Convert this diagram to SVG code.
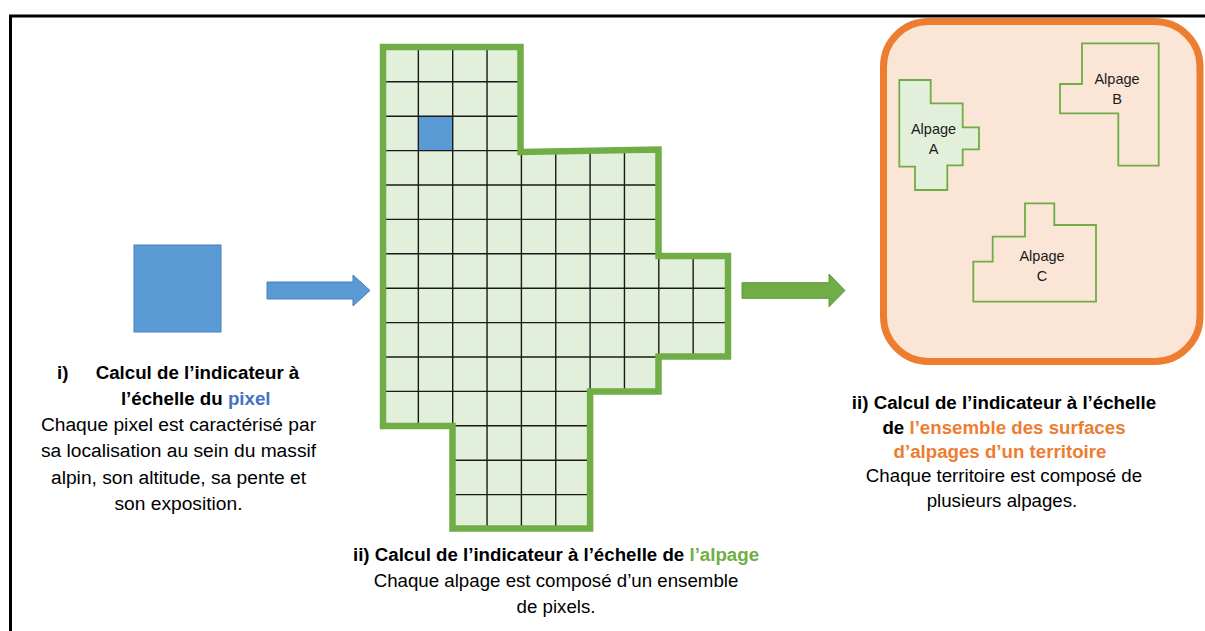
<svg xmlns="http://www.w3.org/2000/svg" width="1205" height="631" viewBox="0 0 1205 631">
  <style>
    .t { font-family: "Liberation Sans", Arial, sans-serif; font-size: 18.7px; fill: #000; }
    .b { font-weight: bold; }
    .blue { fill: #4472C4; }
    .green { fill: #70AD47; }
    .orange { fill: #ED7D31; }
    .lbl { font-family: "Liberation Sans", Arial, sans-serif; font-size: 14.5px; fill: #1a1a1a; text-anchor: middle; }
    .gl { stroke: #1a1a1a; stroke-width: 1.4; }
    .alp { stroke: #70AD47; stroke-width: 1.8; stroke-linejoin: miter; }
  </style>
  <defs>
    <clipPath id="gridClip">
      <polygon points="384,47.4 521.4,47.4 521.4,150.6 658.8,150.6 658.8,253.8 727.5,253.8 727.5,357 658.8,357 658.8,391.4 590.1,391.4 590.1,529 452.7,529 452.7,425.8 384,425.8"/>
    </clipPath>
  </defs>

  <rect width="1205" height="631" fill="#ffffff"/>
  <!-- frame -->
  <path d="M10.5,631 V16 H1205" fill="none" stroke="#000" stroke-width="3"/>

  <!-- pixel node -->
  <g id="pixel">
    <rect x="134" y="245" width="87" height="87" fill="#5B9BD5" stroke="#4A7EBB" stroke-width="1"/>
  </g>

  <!-- alpage grid node -->
  <g id="alpage">
    <polygon points="384,47.4 521.4,47.4 521.4,150.6 658.8,150.6 658.8,253.8 727.5,253.8 727.5,357 658.8,357 658.8,391.4 590.1,391.4 590.1,529 452.7,529 452.7,425.8 384,425.8" fill="#E2EFDA"/>
    <rect x="418.35" y="116.2" width="34.35" height="34.4" fill="#5B9BD5"/>
    <g clip-path="url(#gridClip)" class="gl">
      <line x1="418.35" y1="40" x2="418.35" y2="540"/>
      <line x1="452.7" y1="40" x2="452.7" y2="540"/>
      <line x1="487.05" y1="40" x2="487.05" y2="540"/>
      <line x1="521.4" y1="40" x2="521.4" y2="540"/>
      <line x1="555.75" y1="40" x2="555.75" y2="540"/>
      <line x1="590.1" y1="40" x2="590.1" y2="540"/>
      <line x1="624.45" y1="40" x2="624.45" y2="540"/>
      <line x1="658.8" y1="40" x2="658.8" y2="540"/>
      <line x1="693.15" y1="40" x2="693.15" y2="540"/>
      <line x1="370" y1="81.8" x2="740" y2="81.8"/>
      <line x1="370" y1="116.2" x2="740" y2="116.2"/>
      <line x1="370" y1="150.6" x2="740" y2="150.6"/>
      <line x1="370" y1="185" x2="740" y2="185"/>
      <line x1="370" y1="219.4" x2="740" y2="219.4"/>
      <line x1="370" y1="253.8" x2="740" y2="253.8"/>
      <line x1="370" y1="288.2" x2="740" y2="288.2"/>
      <line x1="370" y1="322.6" x2="740" y2="322.6"/>
      <line x1="370" y1="357" x2="740" y2="357"/>
      <line x1="370" y1="391.4" x2="740" y2="391.4"/>
      <line x1="370" y1="425.8" x2="740" y2="425.8"/>
      <line x1="370" y1="460.2" x2="740" y2="460.2"/>
      <line x1="370" y1="494.6" x2="740" y2="494.6"/>
    </g>
    <polygon points="383,47 520.5,47 520.5,152 658.5,149.5 658.5,256 728,256 728,356.5 658.5,356.5 658.5,391.4 590.1,391.4 590.1,528.5 452.5,528.5 452.5,426 383,426" fill="none" stroke="#70AD47" stroke-width="6.5" stroke-linejoin="miter"/>
  </g>

  <!-- territoire node -->
  <g id="territoire">
    <rect x="883.5" y="21.5" width="316.5" height="340" rx="45" ry="45" fill="#FBE5D6" stroke="#ED7D31" stroke-width="7"/>
    <g id="alpageA">
      <polygon class="alp" fill="#E2EFDA" points="899.3,80 930.7,80 930.7,103.3 962.7,103.3 962.7,127.3 979,127.3 979,149.3 962.7,149.3 962.7,165.3 947.3,165.3 947.3,190 915,190 915,166.7 899.3,166.7"/>
      <text class="lbl" x="933.5" y="133.5">Alpage</text>
      <text class="lbl" x="933.5" y="153.5">A</text>
    </g>
    <g id="alpageB">
      <polygon class="alp" fill="none" points="1082,43.3 1158.7,43.3 1158.7,165.7 1118.3,165.7 1118.3,113.3 1060,113.3 1060,84 1082,84"/>
      <text class="lbl" x="1117" y="83.5">Alpage</text>
      <text class="lbl" x="1117" y="103.5">B</text>
    </g>
    <g id="alpageC">
      <polygon class="alp" fill="none" points="1025,203.3 1054.3,203.3 1054.3,225 1096,225 1096,301.7 973.3,301.7 973.3,261.7 992.7,261.7 992.7,236.7 1025,236.7"/>
      <text class="lbl" x="1042" y="261">Alpage</text>
      <text class="lbl" x="1042" y="281">C</text>
    </g>
  </g>

  <!-- connectors -->
  <g id="connectors">
    <polygon points="267,282 353,282 353,275 370,290.5 353,306 353,299 267,299" fill="#5B9BD5" stroke="#4A7EBB" stroke-width="1"/>
    <polygon points="742,282.7 829,282.7 829,274 845,290.5 829,306.7 829,298.3 742,298.3" fill="#70AD47" stroke="#5E9A3A" stroke-width="1"/>
  </g>

  <!-- texts -->
  <g id="text-pixel">
    <text class="t b" x="57" y="379">i)</text>
    <text class="t b" x="197.5" y="379" text-anchor="middle">Calcul de l’indicateur à</text>
    <text class="t b" x="195.7" y="405" text-anchor="middle">l’échelle du <tspan class="blue">pixel</tspan></text>
    <text class="t" x="178.5" y="431" text-anchor="middle" style="font-size:19.2px">Chaque pixel est caractérisé par</text>
    <text class="t" x="178.5" y="457" text-anchor="middle" style="font-size:19.2px">sa localisation au sein du massif</text>
    <text class="t" x="178.5" y="484" text-anchor="middle" style="font-size:19.2px">alpin, son altitude, sa pente et</text>
    <text class="t" x="178.5" y="510" text-anchor="middle" style="font-size:19.2px">son exposition.</text>
  </g>
  <g id="text-alpage">
    <text class="t b" x="556" y="561" text-anchor="middle">ii) Calcul de l’indicateur à l’échelle de <tspan class="green">l’alpage</tspan></text>
    <text class="t" x="556" y="587" text-anchor="middle">Chaque alpage est composé d’un ensemble</text>
    <text class="t" x="556" y="613" text-anchor="middle">de pixels.</text>
  </g>
  <g id="text-territoire">
    <text class="t b" x="1004" y="409" text-anchor="middle">ii) Calcul de l’indicateur à l’échelle</text>
    <text class="t b" x="1004" y="434" text-anchor="middle">de <tspan class="orange">l’ensemble des surfaces</tspan></text>
    <text class="t b orange" x="1000" y="458" text-anchor="middle">d’alpages d’un territoire</text>
    <text class="t" x="1004" y="482" text-anchor="middle">Chaque territoire est composé de</text>
    <text class="t" x="1002" y="507" text-anchor="middle">plusieurs alpages.</text>
  </g>
</svg>
